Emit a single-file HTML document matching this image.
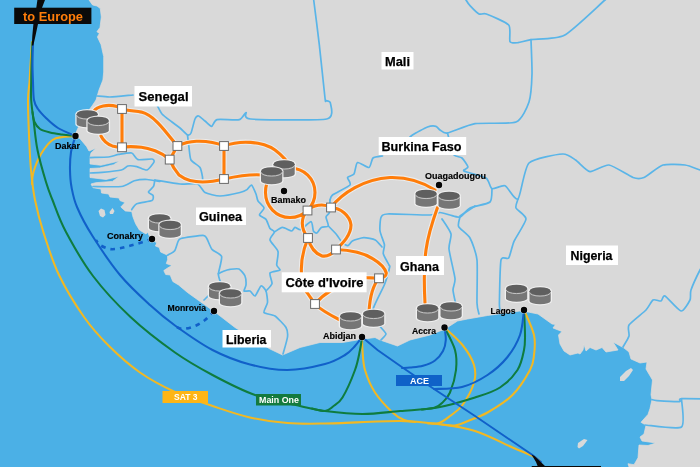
<!DOCTYPE html>
<html>
<head>
<meta charset="utf-8">
<title>West Africa network map</title>
<style>
html,body{margin:0;padding:0;background:#d9d9d9;overflow:hidden}
body{width:700px;height:467px;font-family:"Liberation Sans",sans-serif}
svg{display:block;position:absolute;left:-20px;top:-20px;filter:blur(0.75px)}
text{font-family:"Liberation Sans",sans-serif;font-weight:bold}
.bd{fill:none;stroke:#5ab5e8;stroke-width:1.7;stroke-linejoin:round;stroke-linecap:round}
.or{fill:none;stroke:#ff7d0a;stroke-width:3.1;stroke-linecap:round;stroke-linejoin:round}
.orh{fill:none;stroke:#ececec;stroke-width:5.2;stroke-linecap:round;stroke-linejoin:round}
.cb{fill:none;stroke:#1160c9;stroke-width:2.05;stroke-linecap:round}
.cg{fill:none;stroke:#0f7c3f;stroke-width:2.05;stroke-linecap:round}
.cy{fill:none;stroke:#f2b822;stroke-width:2.05;stroke-linecap:round}
.sq{fill:#fff;stroke:#6a6a6a;stroke-width:1}
.cn{font-size:12.8px;fill:#000;stroke:#000;stroke-width:0.25}
.ct{font-size:8.6px;fill:#000;stroke:#000;stroke-width:0.15}
</style>
</head>
<body>
<svg width="740" height="507" viewBox="-20 -20 740 507">
<defs>
<g id="cyl">
<path d="M-1.3,4.2 L-1.3,14 A11.9,4.4 0 0 0 22.5,14 L22.5,4.2 A11.9,5.3 0 0 0 -1.3,4.2Z" fill="#f2f2f2" opacity="0.9"/>
<path d="M0,4.2 L0,14 A10.6,3.2 0 0 0 21.2,14 L21.2,4.2Z" fill="#767676"/>
<ellipse cx="10.6" cy="4.2" rx="10.6" ry="4" fill="#5f5f5f"/>
<path d="M0,5.2 A10.6,3.9 0 0 0 21.2,5.2" fill="none" stroke="#c4c4c4" stroke-width="1"/>
</g>
</defs>
<rect x="-20" y="-20" width="740" height="507" fill="#d9d9d9"/>
<path fill="#4bb0e6" stroke="#e4dcd8" stroke-width="0.7" d="M-20,-20 L84,-20 L86,-8 L89,0 L92.600,5 L97,6 L100.300,8.600 L101.300,17 L100,27.400 L96.900,31.700 L99.400,33.400 L97.400,36.900 L101,44.600 L103.700,56.600 L103.700,72 L102.900,80 L99,90 L96,100 L92,106 L86,114 L78,128 L75,135 L80.3,139 L86.7,146.7 L89,151 L96.300,148 L91,153 L90,157
L90,164 L100.800,165.300 L120,160.800 L113.700,164.700 L99.600,168 L90,168.500 L90,177.500 L106,179.500 L119.500,176.300 L112.400,181.400 L95.700,182.700 L91,184 L93,187.700 L101,189 L101.500,193 L108.600,194 L110,197 L119,198 L120,200.600 L125,202.500 L120.800,207 L125.300,211 L131.700,211.500 L133,217 L135.600,223.700 L139.400,230 L146,234 L147.700,232 L149,235.300 L152,239 L156.700,243 L155.400,246 L159.300,247.500 L160.600,252 L167.600,255.200 L167.600,259.700 L166.300,263.600 L172,265.500 L167.600,268 L163.800,270.600 L165.700,274.500 L170.200,275 L172.800,281.500 L178.600,285 L187.5,292.5 L205,305 L217.5,314 L235,327.5 L255,340 L270,349 L282.5,355 L300,347.5 L320,342.5 L342.5,342.5 L360,339.5 L375,337.5 L380,340 L397.5,346 L410,340 L430,335 L445,329 L457.5,321 L467.5,319 L487.5,315.5 L520,311 L528,312 L538,314 L552,324 L555.500,324.500 L553,328 L562,331.500 L558.500,335 L560,344 L564,351 L570,355 L578,353 L580,354 L583,350 L584,344.500 L586,351 L590,347.500 L596,350 L602,347.500 L606,352 L618,350 L613,342 L624,348 L629,352 L631,359 L640,363 L647,362 L646,369 L652.500,380 L651,394.700 L652,399.600 L650,408.500 L648,414.400 L641,422.300 L646,425.200 L644,434 L640,437 L642,441 L656,443 L648,445.500 L639,445 L638,457.800 L634,464.700 L628,463.700 L629,467 L631,487 L-20,487Z"/>
<path fill="#d9d9d9" d="M98.500,211 L101,208.500 L104.500,210 L105.500,215 L103,217.500 L100,216Z M109.500,212 L112.500,208 L114.500,211 L113,214 L110,214Z M620,377 L626,371 L631,368 L633,370 L629,376 L624,381 L620,381Z M578,443 L584,439 L587.500,440 L583,446 L579,448.500 L577.500,447Z"/>

<g class="bd">
<!-- Senegal north / Mauritania -->
<path d="M97.0,96.0 C98.4,96.1 106.2,97.1 110.0,97.0 C113.8,96.9 130.5,95.2 133.0,95.0"/>
<path d="M157.5,106.0 C158.0,106.9 160.5,112.3 162.0,114.0 C163.5,115.7 170.1,120.5 172.0,122.0 C173.9,123.5 178.3,126.6 180.0,128.0 C181.7,129.4 186.3,134.5 187.5,135.0 C188.7,135.5 190.2,134.7 191.0,133.0 C191.8,131.3 194.2,120.8 195.0,119.0 C195.8,117.2 197.5,115.8 198.6,116.0 C199.7,116.2 203.6,119.9 205.0,121.0 C206.4,122.1 210.3,126.4 211.6,126.3 C212.9,126.2 214.0,120.3 217.0,119.6 C220.0,118.9 236.3,120.4 239.4,119.6 C242.5,118.8 244.8,112.6 246.0,112.5 C247.2,112.4 242.0,118.3 250.6,119.0 C259.2,119.7 318.2,120.7 326.7,119.0 C335.2,117.3 330.5,105.0 330.4,103.0 C330.3,101.0 326.6,101.0 326.0,100.5 C325.4,100.0 325.7,104.0 325.0,98.0 C324.3,92.0 320.5,55.1 319.3,44.6 C318.1,34.1 314.6,6.9 313.7,0.0 C312.8,-6.9 311.3,-17.9 311.0,-20.0"/>
<path d="M187.5,135.0 C187.7,136.3 188.6,144.8 189.0,147.5 C189.4,150.2 189.8,157.9 191.0,160.0 C192.2,162.1 198.8,165.7 200.0,167.5 C201.2,169.3 202.2,175.3 202.5,177.0 C202.8,178.7 202.5,182.4 202.5,183.0"/>
<!-- Mali / Algeria / Niger -->
<path d="M455.0,-20.0 C456.2,-17.9 464.4,-2.7 466.0,0.0 C467.6,2.7 468.6,4.1 470.0,5.6 C471.4,7.1 477.3,13.1 479.0,14.0 C480.7,14.9 483.2,12.8 486.4,14.0 C489.6,15.2 506.2,22.1 508.7,25.0 C511.2,27.9 509.0,39.7 510.0,41.6 C511.0,43.5 515.8,42.9 518.0,42.7 C520.2,42.5 526.1,40.5 531.0,39.7 C535.9,38.9 556.5,39.5 564.4,35.3 C572.3,31.1 598.2,5.9 605.0,0.0 C611.8,-5.9 625.5,-17.9 628.0,-20.0"/>
<path d="M531.0,39.7 C531.1,43.4 532.2,67.4 532.0,74.0 C531.8,80.6 530.7,96.9 529.0,102.0 C527.3,107.1 521.8,119.7 516.0,122.0 C510.2,124.3 482.3,122.5 475.0,123.7 C467.7,124.9 451.1,132.3 447.4,133.0 C443.7,133.7 441.2,130.7 440.0,130.0 C438.8,129.3 437.3,126.6 436.0,126.3 C434.7,126.0 430.0,126.1 427.5,127.0 C425.0,127.9 414.9,133.4 412.5,135.0 C410.1,136.6 405.8,141.3 405.0,142.0"/>
<path d="M382.5,156.0 C381.5,156.2 374.4,156.8 373.0,158.0 C371.6,159.2 370.7,167.0 369.0,167.5 C367.3,168.0 359.1,161.8 357.5,162.5 C355.9,163.2 355.1,172.4 354.0,174.0 C352.9,175.6 347.9,176.3 347.5,177.5 C347.1,178.7 351.6,183.1 350.0,185.0 C348.4,186.9 334.6,193.4 332.5,195.0 C330.4,196.6 330.3,199.5 330.0,200.0"/>
<path d="M447.4,133.0 C447.7,134.0 449.3,139.7 450.0,142.0 C450.7,144.3 452.7,153.3 454.0,155.0 C455.3,156.7 460.5,156.7 462.0,158.0 C463.5,159.3 467.8,165.6 468.0,167.0 C468.2,168.4 462.1,169.8 464.0,171.0 C465.9,172.2 483.0,176.1 486.0,178.0 C489.0,179.9 490.0,187.9 492.0,188.7 C494.0,189.5 502.2,184.6 505.0,185.7 C507.8,186.8 515.4,201.4 518.0,199.0 C520.6,196.6 524.2,167.8 529.0,163.0 C533.8,158.2 557.6,154.3 562.6,154.0 C567.6,153.7 572.7,158.1 575.6,160.0 C578.5,161.9 586.4,171.1 590.0,171.6 C593.6,172.1 604.4,164.4 609.0,165.0 C613.6,165.6 629.3,176.2 633.0,177.5 C636.7,178.8 640.8,178.8 644.0,177.5 C647.2,176.2 658.6,166.3 663.0,165.0 C667.4,163.7 681.1,164.5 685.0,165.0 C688.9,165.5 696.3,168.7 700.0,170.0 C703.7,171.3 717.9,176.3 720.0,177.0"/>
<path d="M518.0,199.0 C517.8,200.0 515.1,205.9 516.0,208.0 C516.9,210.1 526.2,215.4 526.0,219.0 C525.8,222.6 515.8,237.2 514.0,241.4 C512.2,245.6 510.1,256.0 508.7,258.0 C507.3,260.0 502.0,255.2 501.0,260.0 C500.0,264.8 499.5,297.7 499.4,303.0 C499.3,308.3 499.9,309.3 500.0,310.0"/>
<path d="M492.0,188.7 C491.8,190.1 492.3,199.9 490.0,202.0 C487.7,204.1 473.2,206.4 470.0,208.0 C466.8,209.6 462.1,216.3 460.0,217.0 C457.9,217.7 452.1,215.5 450.0,215.0 C447.9,214.5 442.1,212.5 440.0,212.5 C437.9,212.5 435.6,214.8 430.0,215.0 C424.4,215.2 392.7,213.7 387.5,214.0 C382.3,214.3 381.8,215.7 381.0,217.5 C380.2,219.3 379.6,228.1 380.0,231.0 C380.4,233.9 384.0,242.2 384.4,244.6 C384.8,247.0 382.8,251.6 383.3,253.8 C383.8,256.0 388.3,263.6 389.0,265.0 C389.7,266.4 390.2,264.9 389.7,267.0 C389.2,269.1 386.3,279.9 384.6,284.3 C382.9,288.7 374.3,304.5 373.4,308.3 C372.5,312.1 375.2,318.0 376.0,320.0 C376.8,322.0 379.9,326.0 381.0,327.5 C382.1,329.0 386.0,332.7 386.0,334.0 C386.0,335.3 381.5,339.4 381.0,340.0"/>
<path d="M460.0,217.0 C459.9,218.0 457.5,224.4 458.6,226.6 C459.7,228.8 468.0,234.4 470.0,238.0 C472.0,241.6 476.3,253.1 477.0,260.0 C477.7,266.9 476.8,297.2 477.0,303.0 C477.2,308.8 478.8,312.8 479.0,314.0"/>
<path d="M442.0,219.0 C443.0,220.6 450.3,230.8 451.0,234.0 C451.7,237.2 448.6,244.2 449.0,249.0 C449.4,253.8 454.6,274.2 455.0,278.6 C455.4,283.0 452.9,287.2 453.0,290.0 C453.1,292.8 455.7,303.4 456.0,305.0"/>
<path d="M475,206 L460,216"/>
<!-- Nigeria / Cameroon -->
<path d="M712.0,250.0 C710.7,252.1 702.2,265.7 700.0,270.0 C697.8,274.3 692.1,286.8 691.0,290.0 C689.9,293.2 691.1,297.8 690.0,300.0 C688.9,302.2 683.7,311.4 681.0,311.0 C678.3,310.6 667.1,297.1 665.0,296.0 C662.9,294.9 662.3,300.6 661.0,301.0 C659.7,301.4 654.6,299.0 653.0,300.0 C651.4,301.0 648.6,307.3 646.0,310.0 C643.4,312.7 630.8,322.2 629.0,325.0 C627.2,327.8 629.6,333.7 629.0,336.0 C628.4,338.3 623.6,345.8 623.0,347.0"/>
<path d="M652.0,399.6 C652.5,399.7 654.1,400.4 657.0,400.6 C659.9,400.8 676.9,401.8 679.5,401.6 C682.1,401.4 677.2,398.9 681.5,398.6 C685.8,398.3 715.9,399.0 720.0,399.0"/>
<path d="M681.5,399.0 C681.5,402.0 685.4,424.2 681.5,427.0 C677.6,429.8 648.9,425.2 645.0,425.0"/>
<!-- Guinea etc -->
<path d="M90.0,157.6 C92.0,157.5 105.5,157.3 108.6,157.0 C111.7,156.7 116.3,154.8 118.8,154.4 C121.3,154.0 129.7,152.4 131.7,153.0 C133.7,153.6 135.8,159.0 138.0,159.6 C140.2,160.2 150.3,158.7 152.0,159.0 C153.7,159.3 154.5,160.8 154.0,162.0 C153.5,163.2 148.8,169.5 147.0,170.0 C145.2,170.5 138.8,167.0 136.8,166.6 C134.8,166.2 129.4,165.6 127.8,166.0 C126.2,166.4 124.2,169.3 121.4,170.0 C118.6,170.7 105.3,172.1 102.0,172.4 C98.7,172.7 91.3,172.9 90.0,173.0"/>
<path d="M93.0,186.5 C96.0,186.5 117.0,187.1 121.4,186.5 C125.8,185.9 131.6,181.5 134.3,180.8 C137.0,180.1 144.3,179.4 147.0,179.5 C149.7,179.6 158.6,181.2 160.0,181.4"/>
<path d="M155.0,180.0 C157.7,180.4 175.5,183.6 180.0,184.0 C184.5,184.4 194.8,183.1 197.5,184.0 C200.2,184.9 202.6,191.2 205.0,192.5 C207.4,193.8 216.3,196.0 220.0,196.0 C223.7,196.0 237.1,193.2 240.0,192.5 C242.9,191.8 245.8,190.4 247.0,189.6 C248.2,188.8 250.5,184.5 251.5,185.0 C252.5,185.5 255.3,192.3 256.0,194.0 C256.7,195.7 257.1,199.5 258.0,201.0 C258.9,202.5 263.8,206.5 264.0,208.0 C264.2,209.5 259.3,213.8 259.5,215.0 C259.7,216.2 264.9,218.0 266.0,219.4 C267.1,220.8 269.1,227.2 270.0,228.5 C270.9,229.8 274.4,230.8 274.4,232.0 C274.4,233.2 269.6,237.9 270.0,240.0 C270.4,242.1 277.3,248.8 278.0,251.5 C278.7,254.2 276.5,263.0 276.7,265.0 C276.9,267.0 280.7,269.1 280.0,270.0 C279.3,270.9 270.9,271.5 270.0,273.0 C269.1,274.5 272.4,281.7 272.0,283.6 C271.6,285.5 266.6,290.2 266.0,291.0"/>
<path d="M154.8,180.0 C154.7,180.7 154.2,185.1 153.5,186.4 C152.8,187.7 148.5,191.0 148.4,192.0 C148.3,193.0 152.6,194.5 153.0,195.4 C153.4,196.3 153.7,199.7 152.0,200.6 C150.3,201.5 139.0,202.8 136.8,203.8 C134.6,204.8 132.2,209.0 131.7,209.6"/>
<path d="M167.6,255.2 C168.4,254.7 173.6,252.1 174.7,250.7 C175.8,249.3 177.3,243.0 178.0,241.7 C178.7,240.4 178.3,239.2 181.0,238.5 C183.7,237.8 200.2,235.3 203.0,235.3 C205.8,235.3 205.8,237.0 206.8,238.5 C207.8,240.0 210.4,247.5 212.0,249.4 C213.6,251.3 220.9,253.9 221.6,256.5 C222.3,259.1 218.6,271.3 218.4,273.8 C218.2,276.3 219.5,278.9 219.7,280.0 C219.9,281.1 221.7,281.9 220.0,284.0 C218.3,286.1 205.7,298.3 204.0,300.0"/>
<path d="M218.4,273.8 C218.9,273.5 222.3,271.8 223.5,271.3 C224.7,270.8 228.3,269.5 230.0,269.3 C231.7,269.1 237.4,268.3 239.0,269.0 C240.6,269.7 244.3,274.3 245.0,276.0 C245.7,277.7 246.1,283.4 246.0,285.0 C245.9,286.6 243.6,290.4 244.0,291.0 C244.4,291.6 248.8,290.5 250.0,291.0 C251.2,291.5 253.8,296.5 255.0,296.0 C256.2,295.5 259.8,286.5 261.0,286.0 C262.2,285.5 265.3,289.2 266.0,291.0 C266.7,292.8 267.7,300.2 267.5,302.5 C267.3,304.8 263.2,311.1 264.0,312.5 C264.8,313.9 272.7,314.4 275.0,316.0 C277.3,317.6 284.7,325.3 286.0,327.5 C287.3,329.7 287.8,334.2 287.5,337.0 C287.2,339.8 283.5,352.2 283.0,354.0"/>
<path d="M274.4,232.0 C275.3,231.5 280.6,227.5 282.4,227.4 C284.2,227.3 290.3,231.0 291.6,231.0 C292.9,231.0 294.0,227.5 295.0,227.4 C296.0,227.3 299.0,230.3 300.7,229.7 C302.4,229.1 309.6,221.6 311.0,221.7 C312.4,221.8 312.8,229.8 313.4,231.0 C314.0,232.2 315.9,233.4 316.8,233.0 C317.7,232.6 320.2,228.1 321.4,227.4 C322.6,226.7 327.8,227.1 328.3,226.0 C328.8,224.9 325.9,218.4 326.0,217.0 C326.1,215.6 329.0,214.3 329.4,212.5 C329.8,210.7 329.9,201.3 330.0,200.0"/>
<path d="M328.3,226.0 C329.2,226.9 334.8,232.6 336.3,234.3 C337.8,236.0 340.8,241.1 342.0,242.3 C343.2,243.5 346.7,245.8 347.8,245.7 C348.9,245.6 350.7,241.9 352.4,241.0 C354.1,240.1 361.4,237.8 363.8,237.7 C366.2,237.6 373.4,239.0 375.3,240.0 C377.2,241.0 381.3,246.3 382.0,247.0"/>
</g>

<g class="cy">
<path d="M32.0,42.0 C31.8,45.8 30.9,58.3 30.5,65.0 C30.1,71.7 29.9,76.2 29.5,82.0 C29.1,87.8 28.1,91.2 28.0,100.0 C27.9,108.8 28.5,123.3 29.0,135.0 C29.5,146.7 30.0,159.2 31.0,170.0 C32.0,180.8 32.9,189.6 35.0,200.0 C37.1,210.4 39.5,220.0 43.5,232.5 C47.5,245.0 52.2,260.9 59.0,275.0 C65.8,289.1 75.7,305.2 84.0,317.0 C92.3,328.8 99.7,336.8 109.0,346.0 C118.3,355.2 129.0,364.8 140.0,372.5 C151.0,380.2 162.9,386.4 175.0,392.0 C187.1,397.6 200.0,401.8 212.5,406.0 C225.0,410.2 237.5,414.7 250.0,417.5 C262.5,420.3 275.0,422.0 287.5,423.0 C300.0,424.0 306.2,423.8 325.0,423.5 C343.8,423.2 381.2,420.9 400.0,421.0 C418.8,421.1 425.0,422.3 437.5,424.0 C450.0,425.7 462.5,427.1 475.0,431.0 C487.5,434.9 502.9,443.3 512.5,447.5 C522.1,451.7 527.9,453.8 532.5,456.0 C537.1,458.2 538.8,460.2 540.0,461.0"/>
<path d="M32.0,184.0 C32.2,182.0 32.0,177.0 33.5,172.0 C35.0,167.0 37.8,159.3 41.0,154.0 C44.2,148.7 48.8,142.8 52.5,140.0 C56.2,137.2 59.2,137.7 63.0,137.0 C66.8,136.3 73.4,136.2 75.5,136.0"/>
<path d="M362.0,337.0 C362.1,339.2 362.0,344.5 362.5,350.0 C363.0,355.5 362.9,362.9 365.0,370.0 C367.1,377.1 370.4,385.4 375.0,392.5 C379.6,399.6 387.7,407.9 392.5,412.5 C397.3,417.1 400.2,418.4 404.0,420.0 C407.8,421.6 413.2,421.7 415.0,422.0"/>
<path d="M444.5,327.5 C447.5,330.4 457.6,338.8 462.5,345.0 C467.4,351.2 472.1,358.8 474.0,365.0 C475.9,371.2 475.9,375.8 474.0,382.5 C472.1,389.2 466.5,399.4 462.5,405.0 C458.5,410.6 453.9,413.0 450.0,416.0 C446.1,419.0 442.7,421.8 439.0,423.0 C435.3,424.2 429.8,423.4 428.0,423.5"/>
<path d="M524.0,310.0 C525.7,314.2 532.3,327.5 534.0,335.0 C535.7,342.5 534.7,349.2 534.0,355.0 C533.3,360.8 533.6,363.3 530.0,370.0 C526.4,376.7 519.6,387.9 512.5,395.0 C505.4,402.1 494.9,408.2 487.5,412.5 C480.1,416.8 473.4,418.8 468.0,421.0 C462.6,423.2 459.3,424.9 455.0,425.5 C450.7,426.1 444.2,424.7 442.0,424.5"/>
</g>
<g class="cg">
<path d="M32.5,42.0 C32.3,45.8 31.7,58.3 31.5,65.0 C31.3,71.7 31.2,76.2 31.2,82.0 C31.1,87.8 30.8,93.3 31.2,100.0 C31.6,106.7 32.7,113.7 33.8,122.0 C34.8,130.3 35.5,140.0 37.5,150.0 C39.5,160.0 43.5,173.7 46.0,182.0 C48.5,190.3 49.2,191.7 52.5,200.0 C55.8,208.3 59.2,219.3 66.0,232.0 C72.8,244.7 82.2,261.8 93.0,276.0 C103.8,290.2 116.8,304.2 130.5,317.0 C144.2,329.8 161.3,342.8 175.0,352.5 C188.7,362.2 199.2,367.9 212.5,375.0 C225.8,382.1 240.4,389.8 255.0,395.0 C269.6,400.2 288.3,403.3 300.0,406.0 C311.7,408.7 314.6,409.7 325.0,411.0 C335.4,412.3 350.0,414.0 362.5,414.0 C375.0,414.0 387.5,412.1 400.0,411.0 C412.5,409.9 425.0,409.8 437.5,407.5 C450.0,405.2 464.6,400.8 475.0,397.5 C485.4,394.2 492.9,392.1 500.0,387.5 C507.1,382.9 513.5,376.2 517.5,370.0 C521.5,363.8 522.8,355.8 524.0,350.0 C525.2,344.2 525.0,341.7 525.0,335.0 C525.0,328.3 524.2,314.2 524.0,310.0"/>
<path d="M32.5,112.0 C32.8,113.7 33.2,119.2 34.5,122.0 C35.8,124.8 37.4,127.2 40.0,129.0 C42.6,130.8 46.3,131.6 50.0,132.5 C53.7,133.4 57.8,133.9 62.0,134.5 C66.2,135.1 73.2,135.8 75.5,136.0"/>
<path d="M362.0,337.0 C361.7,339.2 361.2,344.5 360.0,350.0 C358.8,355.5 357.9,362.1 355.0,370.0 C352.1,377.9 346.2,391.4 342.5,397.5 C338.8,403.6 335.9,404.2 333.0,406.5 C330.1,408.8 328.5,410.7 325.0,411.0 C321.5,411.3 314.2,408.9 312.0,408.5"/>
<path d="M444.5,327.5 C446.2,331.2 453.1,342.9 455.0,350.0 C456.9,357.1 456.8,362.9 456.0,370.0 C455.2,377.1 452.3,387.0 450.0,392.5 C447.7,398.0 444.5,400.5 442.0,403.0 C439.5,405.5 438.3,406.4 435.0,407.5 C431.7,408.6 424.2,409.2 422.0,409.5"/>
</g>
<g class="cb">
<path d="M33.0,42.0 C32.9,45.8 32.5,58.3 32.5,65.0 C32.5,71.7 32.8,76.2 33.0,82.0 C33.2,87.8 33.2,95.5 34.0,100.0 C34.8,104.5 36.0,106.0 38.0,109.0 C40.0,112.0 42.7,114.8 46.0,118.0 C49.3,121.2 53.1,125.0 58.0,128.0 C62.9,131.0 72.6,134.7 75.5,136.0"/>
<path d="M75.5,136.0 C74.8,138.7 71.9,146.3 71.0,152.0 C70.1,157.7 69.9,164.2 70.0,170.0 C70.1,175.8 70.3,180.8 71.5,187.0 C72.7,193.2 73.5,198.8 77.0,207.0 C80.5,215.2 85.3,224.7 92.5,236.0 C99.7,247.3 110.4,263.5 120.0,275.0 C129.6,286.5 140.8,296.6 150.0,305.0 C159.2,313.4 164.6,318.0 175.0,325.5 C185.4,333.0 200.0,343.5 212.5,350.0 C225.0,356.5 237.5,361.2 250.0,364.5 C262.5,367.8 275.0,370.1 287.5,370.0 C300.0,369.9 315.4,366.5 325.0,364.0 C334.6,361.5 340.0,358.0 345.0,355.0 C350.0,352.0 352.2,349.0 355.0,346.0 C357.8,343.0 360.8,338.5 362.0,337.0"/>
<path d="M444.5,327.5 C444.7,329.6 446.1,336.1 445.8,340.0 C445.6,343.9 444.8,347.6 443.0,351.0 C441.2,354.4 438.3,358.0 435.0,360.5 C431.7,363.0 427.2,364.6 423.0,365.8 C418.8,367.0 413.5,367.2 410.0,367.6 C406.5,368.0 403.3,367.9 402.0,368.0"/>
<path d="M524.0,310.0 C523.3,314.2 522.8,327.2 520.0,335.0 C517.2,342.8 512.9,350.3 507.5,357.0 C502.1,363.7 495.1,370.0 487.5,375.0 C479.9,380.0 470.9,384.7 462.0,387.0 C453.1,389.3 438.7,388.7 434.0,389.0"/>
<path stroke-width="1.9" d="M362,337 L377.5,350 L402.5,367.5 L434,389 L475,416 L532.5,455 L541,462"/>
<path d="M152.0,239.0 C150.1,239.6 144.2,241.7 140.5,242.8 C136.8,243.9 133.4,244.8 130.0,245.7 C126.6,246.6 123.4,247.8 120.0,248.3 C116.6,248.9 113.0,249.6 109.7,249.0 C106.4,248.4 102.3,246.5 100.0,245.0 C97.7,243.5 96.7,240.8 96.0,240.0" stroke-dasharray="4.6,5" stroke-linecap="butt" stroke-width="2.6"/>
<path d="M214.0,311.0 C212.5,312.5 208.2,317.5 205.0,320.0 C201.8,322.5 198.8,324.5 195.0,326.0 C191.2,327.5 185.8,329.0 182.5,329.0 C179.2,329.0 176.2,326.5 175.0,326.0" stroke-dasharray="4.6,5" stroke-linecap="butt" stroke-width="2.6"/>
</g>
<path d="M33,-20 L52,-20 L45,0 L42,7.700 L38,24 L35,38 L33.300,45.500 L31.800,45.500 L32.300,36 L33.400,24 L36.300,7.700 L37.400,0Z" fill="#0a0a0a"/>
<path d="M531.500,454.500 L534.500,456 L546,467 L560,487 L540,487 L538,467 L536,462Z" fill="#0a0a0a"/>
<path class="orh" d="M94,111 C97,106 108,104 117,106.500 L122,109 C126,110.500 135,111 141.400,112.100 C153,115 163,128 174,142 L177.400,146 M122,109 L122,147.500 M101,136 C103,140 107,144 112.300,145.900 C116,147 119,147.300 122,147.300 C128,146.300 135,146.600 141.400,147.300 C147,148 151,149.300 155.100,150.700 C160,152.500 165,155.500 169.700,159.600 M169.700,159.600 L177.400,146 M177.400,146 C184,143 190,141.500 196.300,141.300 C206,141 216,142.500 224,146 C240,140 262,141 275,150 C283,156 288,162 291,168 M224,146 L224,179 M169.700,159.600 C171,163 174,169 179,175 C183,178 186,179.500 190,180.500 C200,183 212,182 224,179 C238,176 250,174 262,175 M290,168 C304,168 315,179 315,192.500 C315,206 304,217.500 290,217.500 C276,217.500 265.500,206 265.500,192.500 C265.500,186 267,181 270,177 M307.500,210.500 C312,205 324,203 331,207.500 M307.500,210.500 C301,217 300,228 308,238 M331,207.500 C340,208 350,215 351,225 C351,235 343,243 336,249.500 M308,238 C310,246 314,253 322,256 C328,257 333,253 336,249.500 M308,238 C303,250 301,262 301.400,272 C301.500,285 304,290 307.400,293 C310,297 313,301 315,304 C320,309 328,314 340,320 M336,249.500 C350,250 364,253 372.600,258.600 C380,263 385,268 386.300,273 C386.500,276 383,278 379,278.300 M366,277.600 L379,278.300 M315,304 C322,296 332,286 366,277.600 M379,278.300 C374,284 370,294 369,312 M331,207.500 C342,193 364,179 390,177.500 C408,177 424,183 435,190 M437.500,207.500 C433,220 428,235 426,250 C424,265 424,285 425,303"/>
<path class="or" d="M94,111 C97,106 108,104 117,106.500 L122,109 C126,110.500 135,111 141.400,112.100 C153,115 163,128 174,142 L177.400,146 M122,109 L122,147.500 M101,136 C103,140 107,144 112.300,145.900 C116,147 119,147.300 122,147.300 C128,146.300 135,146.600 141.400,147.300 C147,148 151,149.300 155.100,150.700 C160,152.500 165,155.500 169.700,159.600 M169.700,159.600 L177.400,146 M177.400,146 C184,143 190,141.500 196.300,141.300 C206,141 216,142.500 224,146 C240,140 262,141 275,150 C283,156 288,162 291,168 M224,146 L224,179 M169.700,159.600 C171,163 174,169 179,175 C183,178 186,179.500 190,180.500 C200,183 212,182 224,179 C238,176 250,174 262,175 M290,168 C304,168 315,179 315,192.500 C315,206 304,217.500 290,217.500 C276,217.500 265.500,206 265.500,192.500 C265.500,186 267,181 270,177 M307.500,210.500 C312,205 324,203 331,207.500 M307.500,210.500 C301,217 300,228 308,238 M331,207.500 C340,208 350,215 351,225 C351,235 343,243 336,249.500 M308,238 C310,246 314,253 322,256 C328,257 333,253 336,249.500 M308,238 C303,250 301,262 301.400,272 C301.500,285 304,290 307.400,293 C310,297 313,301 315,304 C320,309 328,314 340,320 M336,249.500 C350,250 364,253 372.600,258.600 C380,263 385,268 386.300,273 C386.500,276 383,278 379,278.300 M366,277.600 L379,278.300 M315,304 C322,296 332,286 366,277.600 M379,278.300 C374,284 370,294 369,312 M331,207.500 C342,193 364,179 390,177.500 C408,177 424,183 435,190 M437.500,207.500 C433,220 428,235 426,250 C424,265 424,285 425,303"/>
<rect class="sq" x="117.60" y="104.60" width="8.8" height="8.8"/>
<rect class="sq" x="117.60" y="142.90" width="8.8" height="8.8"/>
<rect class="sq" x="173.00" y="141.60" width="8.8" height="8.8"/>
<rect class="sq" x="165.30" y="155.20" width="8.8" height="8.8"/>
<rect class="sq" x="219.60" y="141.60" width="8.8" height="8.8"/>
<rect class="sq" x="219.60" y="174.60" width="8.8" height="8.8"/>
<rect class="sq" x="303.10" y="206.10" width="8.8" height="8.8"/>
<rect class="sq" x="326.60" y="203.10" width="8.8" height="8.8"/>
<rect class="sq" x="303.60" y="233.60" width="8.8" height="8.8"/>
<rect class="sq" x="331.60" y="245.10" width="8.8" height="8.8"/>
<rect class="sq" x="374.60" y="273.90" width="8.8" height="8.8"/>
<rect class="sq" x="310.60" y="299.60" width="8.8" height="8.8"/>

<!-- cylinders: (x,y) top-left -->
<use href="#cyl" x="76.600" y="110"/>
<use href="#cyl" x="87.600" y="116.500"/>
<use href="#cyl" x="149" y="214"/>
<use href="#cyl" x="159.500" y="220.500"/>
<use href="#cyl" x="273.500" y="160"/>
<use href="#cyl" x="261" y="167"/>
<use href="#cyl" x="209" y="282"/>
<use href="#cyl" x="220" y="289"/>
<use href="#cyl" x="415.500" y="189.500"/>
<use href="#cyl" x="438.500" y="191.500"/>
<use href="#cyl" x="340" y="312"/>
<use href="#cyl" x="363" y="309.500"/>
<use href="#cyl" x="417" y="304"/>
<use href="#cyl" x="440.500" y="302"/>
<use href="#cyl" x="506" y="284.500"/>
<use href="#cyl" x="529.500" y="287"/>
<!-- city dots -->
<g fill="#050505" stroke="#ffffff" stroke-opacity="0.55" stroke-width="1.2" paint-order="stroke">
<circle cx="75.500" cy="136" r="3.200"/>
<circle cx="152" cy="239" r="3.200"/>
<circle cx="214" cy="311" r="3.200"/>
<circle cx="284" cy="191" r="3.200"/>
<circle cx="439" cy="185" r="3.200"/>
<circle cx="362" cy="337" r="3.200"/>
<circle cx="444.500" cy="327.500" r="3.200"/>
<circle cx="524" cy="310" r="3.200"/>
</g>

<!-- to Europe -->
<rect x="14.200" y="7.700" width="77.200" height="16.300" fill="#0a0a0a"/>
<text x="23" y="20.500" font-size="13.200" fill="#ff7d0a" textLength="60" lengthAdjust="spacingAndGlyphs">to Europe</text>
<rect x="531.700" y="466" width="69.300" height="22" fill="#0a0a0a"/>
<!-- country labels -->
<g fill="#ffffff">
<rect x="134.500" y="86" width="57.500" height="20.500"/>
<rect x="381.500" y="52" width="32" height="17.500"/>
<rect x="378.700" y="137" width="87.500" height="18"/>
<rect x="196" y="207.500" width="50" height="17.500"/>
<rect x="281.700" y="272.300" width="84.900" height="20"/>
<rect x="396" y="256" width="48" height="19"/>
<rect x="222.500" y="330" width="48.500" height="17.500"/>
<rect x="566" y="245.500" width="52" height="19.500"/>
</g>
<g class="cn">
<text x="138.500" y="101" textLength="50" lengthAdjust="spacingAndGlyphs">Senegal</text>
<text x="385" y="65.500" textLength="25" lengthAdjust="spacingAndGlyphs">Mali</text>
<text x="381.500" y="151" textLength="80" lengthAdjust="spacingAndGlyphs">Burkina Faso</text>
<text x="199" y="221" textLength="43" lengthAdjust="spacingAndGlyphs">Guinea</text>
<text x="285.500" y="286.500" textLength="78" lengthAdjust="spacingAndGlyphs">Côte d'Ivoire</text>
<text x="400" y="270.500" textLength="39" lengthAdjust="spacingAndGlyphs">Ghana</text>
<text x="226" y="343.500" textLength="40.500" lengthAdjust="spacingAndGlyphs">Liberia</text>
<text x="570.500" y="260" textLength="42" lengthAdjust="spacingAndGlyphs">Nigeria</text>
</g>
<g class="ct">
<text x="55" y="149" textLength="25" lengthAdjust="spacingAndGlyphs">Dakar</text>
<text x="107" y="239" textLength="36" lengthAdjust="spacingAndGlyphs">Conakry</text>
<text x="167.500" y="310.500" textLength="38.500" lengthAdjust="spacingAndGlyphs">Monrovia</text>
<text x="271" y="203" textLength="35" lengthAdjust="spacingAndGlyphs">Bamako</text>
<text x="425" y="179" textLength="61" lengthAdjust="spacingAndGlyphs">Ouagadougou</text>
<text x="323" y="339" textLength="33" lengthAdjust="spacingAndGlyphs">Abidjan</text>
<text x="412" y="334" textLength="24" lengthAdjust="spacingAndGlyphs">Accra</text>
<text x="490.500" y="314" textLength="25" lengthAdjust="spacingAndGlyphs">Lagos</text>
</g>
<!-- cable labels -->
<rect x="162.500" y="391" width="45.500" height="12" fill="#fdb515"/>
<text x="174" y="400" font-size="8.200" fill="#fff" textLength="23.500" lengthAdjust="spacingAndGlyphs">SAT 3</text>
<rect x="256" y="394" width="45" height="11.500" fill="#147a3e"/>
<text x="259" y="403" font-size="8.200" fill="#fff" textLength="40" lengthAdjust="spacingAndGlyphs">Main One</text>
<rect x="396" y="375" width="46" height="11" fill="#0f62c8"/>
<text x="410" y="383.700" font-size="8.200" fill="#fff" textLength="19" lengthAdjust="spacingAndGlyphs">ACE</text>

</svg>
</body>
</html>
